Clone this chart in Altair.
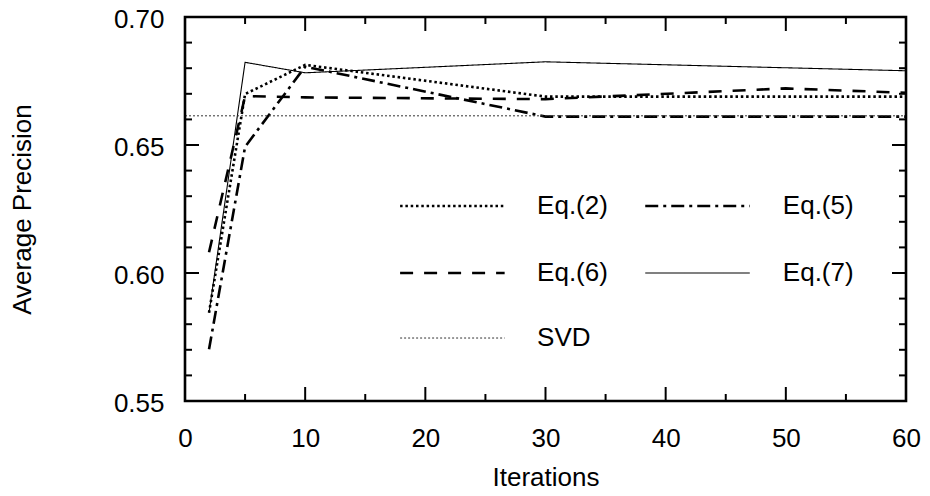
import altair as alt
import pandas as pd

# ---------------- data ----------------
eq2_x = [2, 5, 10, 30, 60]
eq2_y = [0.5845, 0.6699, 0.6813, 0.6689, 0.6689]

eq5_x = [2, 5, 10, 30, 60]
eq5_y = [0.5702, 0.6493, 0.6806, 0.6611, 0.6611]

eq6_x = [2, 5, 10, 30, 50, 60]
eq6_y = [0.6081, 0.6691, 0.6686, 0.6679, 0.6721, 0.6704]

eq7_x = [2, 5, 10, 30, 60]
eq7_y = [0.5845, 0.6823, 0.6782, 0.6825, 0.6790]

svd_x = [0, 60]
svd_y = [0.6614, 0.6614]

series_names = ["Eq.(2)", "Eq.(5)", "Eq.(6)", "Eq.(7)", "SVD"]
series_x = [eq2_x, eq5_x, eq6_x, eq7_x, svd_x]
series_y = [eq2_y, eq5_y, eq6_y, eq7_y, svd_y]

x_major = [0, 10, 20, 30, 40, 50, 60]
x_minor = [5, 15, 25, 35, 45, 55]
y_major = [0.55, 0.60, 0.65, 0.70]
y_minor = [0.56, 0.57, 0.58, 0.59, 0.61, 0.62, 0.63, 0.64, 0.66, 0.67, 0.68, 0.69]

# ---------------- styles / layout ----------------
FONT = "Liberation Sans"
FS = 26
W, H = 721, 384
XMIN, XMAX = 0, 60
YMIN, YMAX = 0.55, 0.70

styles = {
    "Eq.(2)": dict(strokeDash=[2.5, 2.8], strokeWidth=2.6, color="black"),
    "Eq.(5)": dict(strokeDash=[13, 5, 3, 5], strokeWidth=2.6, color="black"),
    "Eq.(6)": dict(strokeDash=[13, 11], strokeWidth=2.6, color="black"),
    "Eq.(7)": dict(strokeDash=[1, 0], strokeWidth=1.1, color="black"),
    "SVD": dict(strokeDash=[2, 2], strokeWidth=1.0, color="#333333"),
}

# legend slots in data units: (symbol start, symbol end, row y, label x)
legend_slots = {
    "Eq.(2)": (17.9, 26.6, 0.6262, 29.3),
    "Eq.(5)": (38.3, 47.0, 0.6262, 49.75),
    "Eq.(6)": (17.9, 26.6, 0.6000, 29.3),
    "Eq.(7)": (38.3, 47.0, 0.6000, 49.75),
    "SVD": (17.9, 26.6, 0.5746, 29.3),
}

xscale = alt.Scale(domain=[XMIN, XMAX], nice=False, zero=False)
yscale = alt.Scale(domain=[YMIN, YMAX], nice=False, zero=False)

xaxis = alt.Axis(
    title="Iterations", values=x_major, format="d", grid=False, domain=False,
    ticks=False, labelFontSize=FS, titleFontSize=FS, labelFont=FONT,
    titleFont=FONT, titleFontWeight="normal", labelColor="black",
    titleColor="black", labelPadding=24, titlePadding=13, labelFlush=False,
)
yaxis = alt.Axis(
    title="Average Precision", values=y_major, format=".2f", grid=False,
    domain=False, ticks=False, labelFontSize=FS, titleFontSize=FS,
    labelFont=FONT, titleFont=FONT, titleFontWeight="normal",
    labelColor="black", titleColor="black", labelPadding=21,
    titlePadding=78, labelFlush=False, labelOffset=2,
)


def X(field="x"):
    return alt.X(f"{field}:Q", scale=xscale, axis=xaxis)


def Y(field="y"):
    return alt.Y(f"{field}:Q", scale=yscale, axis=yaxis)


layers = []

# data lines
for name, xs, ys in zip(series_names, series_x, series_y):
    st = styles[name]
    df = pd.DataFrame({"x": xs, "y": ys})
    layers.append(
        alt.Chart(df).mark_line(
            color=st["color"], strokeWidth=st["strokeWidth"],
            strokeDash=st["strokeDash"], clip=True,
        ).encode(x=X(), y=Y())
    )

# legend (drawn inside plot)
for name in series_names:
    st = styles[name]
    x1, x2, ry, lx = legend_slots[name]
    sym = pd.DataFrame({"x": [x1], "x2": [x2], "y": [ry]})
    layers.append(
        alt.Chart(sym).mark_rule(
            color=st["color"], strokeWidth=st["strokeWidth"],
            strokeDash=st["strokeDash"],
        ).encode(x=X(), x2="x2:Q", y=Y())
    )
    lab = pd.DataFrame({"x": [lx], "y": [ry], "t": [name]})
    layers.append(
        alt.Chart(lab).mark_text(
            align="left", baseline="middle", font=FONT, fontSize=FS,
            color="black",
        ).encode(x=X(), y=Y(), text="t:N")
    )

# inward ticks on all four sides
maj_px, min_px = 14, 7
dy_maj = (YMAX - YMIN) * maj_px / H
dy_min = (YMAX - YMIN) * min_px / H
dx_maj = (XMAX - XMIN) * maj_px / W
dx_min = (XMAX - XMIN) * min_px / W

tick_rows = []
for v in x_major:
    tick_rows.append((v, v, YMIN, YMIN + dy_maj))
    tick_rows.append((v, v, YMAX, YMAX - dy_maj))
for v in x_minor:
    tick_rows.append((v, v, YMIN, YMIN + dy_min))
    tick_rows.append((v, v, YMAX, YMAX - dy_min))
for v in y_major:
    tick_rows.append((XMIN, XMIN + dx_maj, v, v))
    tick_rows.append((XMAX, XMAX - dx_maj, v, v))
for v in y_minor:
    tick_rows.append((XMIN, XMIN + dx_min, v, v))
    tick_rows.append((XMAX, XMAX - dx_min, v, v))
ticks_df = pd.DataFrame(tick_rows, columns=["x", "x2", "y", "y2"])
layers.append(
    alt.Chart(ticks_df).mark_rule(color="black", strokeWidth=2).encode(
        x=X(), x2="x2:Q", y=Y(), y2="y2:Q"
    )
)

# plot frame
frame_df = pd.DataFrame({"x": [XMIN], "x2": [XMAX], "y": [YMIN], "y2": [YMAX]})
layers.append(
    alt.Chart(frame_df).mark_rect(
        filled=False, stroke="black", strokeWidth=2.6, fill=None
    ).encode(x=X(), x2="x2:Q", y=Y(), y2="y2:Q")
)

chart = (
    alt.layer(*layers)
    .properties(
        width=W, height=H,
        autosize=alt.AutoSizeParams(type="none"),
        padding={"left": 177, "top": 9, "right": 16, "bottom": 95},
        background="white",
    )
    .configure_view(stroke=None)
)

chart.save("out.html", embed_options={"renderer": "svg", "actions": False})
